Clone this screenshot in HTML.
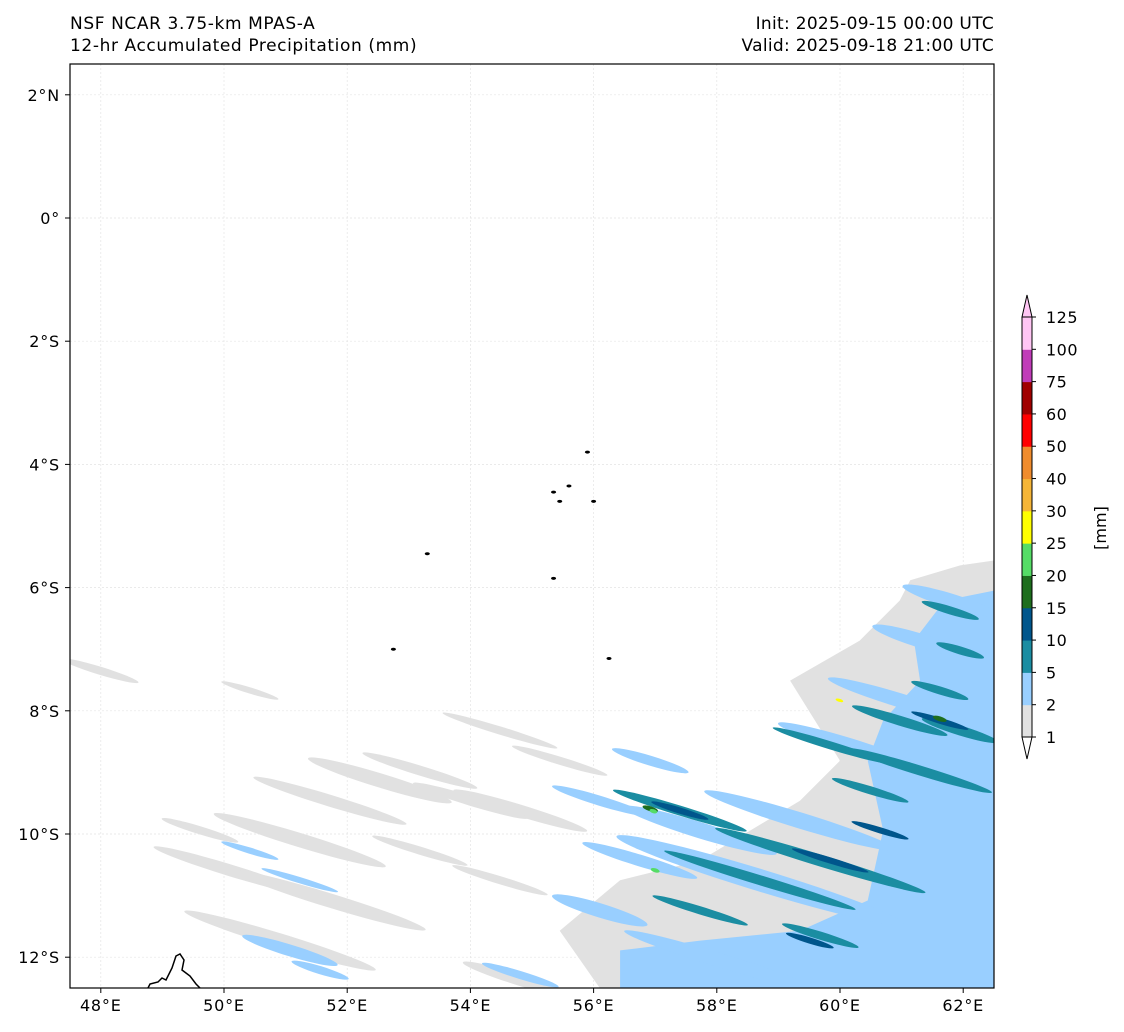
<!DOCTYPE html>
<html><head><meta charset="utf-8"><style>
body{margin:0;background:#fff;width:1124px;height:1032px;overflow:hidden;font-family:"DejaVu Sans","Liberation Sans",sans-serif}
svg{position:absolute;left:0;top:0}
text{font-family:"DejaVu Sans","Liberation Sans",sans-serif}
</style></head><body>
<svg id="c" width="1124" height="1032">
<text x="70" y="29" font-size="17" letter-spacing="0.6">NSF NCAR 3.75-km MPAS-A</text>
<text x="70" y="51" font-size="17" letter-spacing="0.6">12-hr Accumulated Precipitation (mm)</text>
<text x="994" y="29" font-size="17" letter-spacing="0.3" text-anchor="end">Init: 2025-09-15 00:00 UTC</text>
<text x="994" y="51" font-size="17" letter-spacing="0.3" text-anchor="end">Valid: 2025-09-18 21:00 UTC</text>
<defs><clipPath id="clip"><rect x="70" y="64" width="924" height="924"/></clipPath></defs>
<g id="plot" clip-path="url(#clip)"></g>
<g id="axes"></g>
<g id="cbar"></g>
</svg>
<script>
const levels=[1,2,5,10,15,20,25,30,40,50,60,75,100,125];
const colors=["#e1e1e1","#99cfff","#1b8da2","#00568c","#1e6e1e","#55dc66","#ffff00","#f5b537","#f08c2d","#ff0000","#a00000","#c03cb8","#ffc6f4"];
const lonTicks=[48,50,52,54,56,58,60,62];
const latTicks=[2,0,-2,-4,-6,-8,-10,-12];
const greyPolyLon=[61.14,61.95,62.5,62.5,56.10,55.45,56.43,57.73,59.35,60.0,59.19,60.32,60.97];
const greyPolyLat=[-5.88,-5.64,-5.56,-12.5,-12.5,-11.57,-10.75,-10.43,-9.46,-8.81,-7.51,-6.86,-6.21];
const bluePolyLon=[61.7,62.5,62.5,56.43,56.43,57.73,59.35,60.45,60.7,60.45,60.7,61.3,61.2];
const bluePolyLat=[-6.21,-6.05,-12.5,-12.5,-11.89,-11.73,-11.57,-11.08,-9.94,-8.81,-8.16,-7.51,-6.86];
const streakLon=[50.42,52.53,53.18,51.72,51.23,50.10,49.61,51.72,50.91,54.48,54.81,55.45,54.0,47.99,53.18,54.81,54.48,
 50.42,51.23,51.07,51.56,56.92,56.10,56.75,56.10,57.73,58.70,59.35,58.05,60.16,60.97,61.30,61.79,54.81,
 57.40,59.68,58.70,59.84,61.30,60.97,61.62,61.95,59.68,60.49,61.79,57.73,61.95,
 57.40,59.84,61.62,60.65,59.51,
 56.92,61.62,
 56.97,59.99,57.0];
const streakLat=[-7.67,-9.13,-8.97,-9.46,-10.1,-10.59,-9.94,-11.08,-11.73,-8.32,-9.62,-8.81,-9.46,-7.35,-10.27,-12.37,-10.75,
 -10.27,-10.75,-11.89,-12.21,-8.81,-9.46,-10.43,-11.24,-9.94,-10.75,-9.78,-12.05,-8.56,-7.83,-6.86,-6.21,-12.29,
 -9.62,-10.43,-10.75,-8.56,-8.97,-8.16,-7.67,-8.32,-11.65,-9.29,-6.37,-11.24,-7.02,
 -9.62,-10.43,-8.16,-9.94,-11.73,
 -9.59,-8.13,
 -9.63,-7.83,-10.59];
const streakLen=[0.97,2.44,1.95,2.6,2.92,2.6,1.3,3.25,3.25,1.95,2.27,1.62,1.95,1.3,1.62,1.95,1.62,
 0.97,1.3,1.62,0.97,1.3,1.62,1.95,1.62,2.6,4.87,3.25,3.25,2.44,2.44,1.62,1.62,1.3,
 2.27,3.57,3.25,1.95,2.44,1.62,0.97,1.3,1.3,1.3,0.97,1.62,0.81,
 0.97,1.3,0.97,0.97,0.81,
 0.26,0.23,
 0.13,0.13,0.15];
const streakWid=[0.1,0.23,0.16,0.19,0.23,0.19,0.13,0.23,0.23,0.13,0.19,0.13,0.16,0.13,0.13,0.19,0.13,
 0.1,0.1,0.19,0.13,0.16,0.16,0.19,0.23,0.26,0.36,0.26,0.23,0.23,0.23,0.23,0.23,0.13,
 0.16,0.19,0.16,0.13,0.16,0.16,0.13,0.16,0.13,0.13,0.13,0.13,0.13,
 0.1,0.1,0.1,0.1,0.1,
 0.08,0.08,
 0.065,0.05,0.065];
const streakLevel=[0,0,0,0,0,0,0,0,0,0,0,0,0,0,0,0,0,
 1,1,1,1,1,1,1,1,1,1,1,1,1,1,1,1,1,
 2,2,2,2,2,2,2,2,2,2,2,2,2,
 3,3,3,3,3,
 4,4,
 5,6,5];
const islandLon=[55.45,55.6,55.35,56.0,55.9,53.3,55.35,56.25,52.75];
const islandLat=[-4.6,-4.35,-4.45,-4.6,-3.8,-5.45,-5.85,-7.15,-7.0];

const X0=70,Y0=64,S=61.6;
const xs=lon=>X0+(lon-47.5)*S;
const ys=lat=>Y0+(2.5-lat)*S;
const NS="http://www.w3.org/2000/svg";
function mk(t,a,p){const e=document.createElementNS(NS,t);for(const k in a)e.setAttribute(k,a[k]);p.appendChild(e);return e;}
const plot=document.getElementById('plot'),axes=document.getElementById('axes'),cbar=document.getElementById('cbar');

lonTicks.forEach(l=>{const g=mk('line',{x1:xs(l),x2:xs(l),y1:64,y2:988,stroke:'#e4e4e4','stroke-width':0.7,'stroke-dasharray':'2,2'},plot);

});
latTicks.forEach(l=>{const g=mk('line',{x1:70,x2:994,y1:ys(l),y2:ys(l),stroke:'#e4e4e4','stroke-width':0.7,'stroke-dasharray':'2,2'},plot);

});

function poly(lons,lats,col,name){const p=lons.map((l,i)=>xs(l)+','+ys(lats[i])).join(' ');
const e=mk('polygon',{points:p,fill:col},plot);

}
poly(greyPolyLon,greyPolyLat,colors[0],'precip-area-1mm');
for(let lv=0;lv<7;lv++){
 if(lv==1)poly(bluePolyLon,bluePolyLat,colors[1],'precip-area-2mm');
 streakLon.forEach((lon,i)=>{if(streakLevel[i]!==lv)return;
  const cx=xs(lon),cy=ys(streakLat[i]);
  const e=mk('ellipse',{cx:cx,cy:cy,rx:streakLen[i]*S/2,ry:streakWid[i]*S/2,fill:colors[lv],transform:`rotate(17 ${cx} ${cy})`},plot);
  
  });
}
islandLon.forEach((l,i)=>{const e=mk('ellipse',{cx:xs(l),cy:ys(islandLat[i]),rx:2.5,ry:1.5,fill:'#000'},plot);

});
const mad=mk('path',{d:`M148,988 L150,984 L158,982 L162,978 L166,980 L172,968 L176,956 L180,954 L184,960 L182,970 L190,976 L196,984 L200,988`,fill:'none',stroke:'#000','stroke-width':1.5},plot);



const fr=mk('rect',{x:70,y:64,width:924,height:924,fill:'none',stroke:'#000','stroke-width':1.2},axes);


lonTicks.forEach(l=>{mk('line',{x1:xs(l),x2:xs(l),y1:988,y2:993,stroke:'#000'},axes);
const t=mk('text',{x:xs(l),y:1011,'font-size':16,'letter-spacing':0.8,'text-anchor':'middle'},axes);t.textContent=l+'°E';

});
latTicks.forEach(l=>{mk('line',{x1:65,x2:70,y1:ys(l),y2:ys(l),stroke:'#000'},axes);
const t=mk('text',{x:60,y:ys(l)+6,'font-size':16,'letter-spacing':0.8,'text-anchor':'end'},axes);
t.textContent=l==0?'0°':(Math.abs(l)+'°'+(l>0?'N':'S'));

});

const cx0=1022,cw=10,ctop=317,cbBot=737,nInt=levels.length-1,step=(cbBot-ctop)/nInt;
for(let i=0;i<nInt;i++){
 const y=cbBot-(i+1)*step;
 const r=mk('rect',{x:cx0,y:y,width:cw,height:step+0.5,fill:colors[i]},cbar);
 
 
}
const up=mk('polygon',{points:`${cx0},${ctop} ${cx0+cw/2},${ctop-22} ${cx0+cw},${ctop}`,fill:colors[12],stroke:'#000','stroke-width':1},cbar);


const dn=mk('polygon',{points:`${cx0},${cbBot} ${cx0+cw/2},${cbBot+22} ${cx0+cw},${cbBot}`,fill:'#fff',stroke:'#000','stroke-width':1},cbar);


mk('path',{d:`M${cx0},${ctop} L${cx0},${cbBot} M${cx0+cw},${ctop} L${cx0+cw},${cbBot}`,stroke:'#000','stroke-width':1},cbar);
levels.forEach((v,i)=>{
 const yy=cbBot-i*step;
 mk('line',{x1:cx0+cw,x2:cx0+cw+4,y1:yy,y2:yy,stroke:'#000'},cbar);
 const t=mk('text',{x:1046,y:yy+6,'font-size':16,'letter-spacing':0.5},cbar);t.textContent=v;
 
 });
const lab=mk('text',{x:1106,y:528,'font-size':16,'text-anchor':'middle',transform:'rotate(-90 1106 528)'},cbar);
lab.textContent='[mm]';


</script>
</body></html>
